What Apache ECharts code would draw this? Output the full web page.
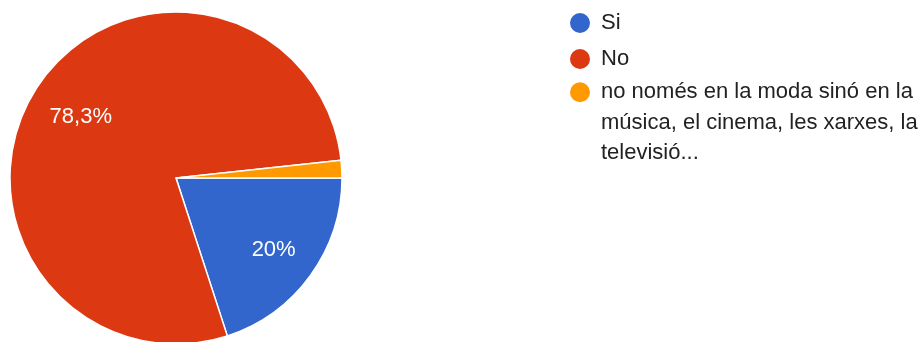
<!DOCTYPE html>
<html>
<head>
<meta charset="utf-8">
<script src="https://cdn.jsdelivr.net/npm/echarts@6/dist/echarts.min.js"></script>
<style>html,body{margin:0;padding:0;background:#fff}#c{width:923px;height:342px}</style>
</head>
<body>
<div id="c"></div>
<script>
const categories = ['Si', 'No', 'no només en la moda sinó en la música, el cinema, les xarxes, la televisió...'];
const values = [20, 78.3, 1.7];
const colors = ['#3366CC', '#DC3912', '#FF9900'];

const FONT = "'Liberation Sans', Arial, sans-serif";
const data = categories.map((n, i) => ({ name: n, value: values[i], itemStyle: { color: colors[i] } }));
const fmt = p => p.value >= 5 ? String(p.value).replace('.', ',') + '%' : '';

// greedy word wrap measured with the legend font
function wrap(text, maxW) {
  const ctx = document.createElement('canvas').getContext('2d');
  ctx.font = "22px 'Liberation Sans', Arial, sans-serif";
  const words = text.split(' ');
  const lines = [];
  let cur = '';
  words.forEach(w => {
    const t = cur ? cur + ' ' + w : w;
    if (cur && ctx.measureText(t).width > maxW) { lines.push(cur); cur = w; }
    else cur = t;
  });
  if (cur) lines.push(cur);
  return lines;
}

function legendFor(i, top, formatter, lh) {
  const l = {
    data: [categories[i]],
    orient: 'vertical',
    left: 568,
    top: top,
    padding: 0,
    icon: 'circle',
    itemWidth: 22,
    itemHeight: 22,
    selectedMode: false,
    textStyle: { fontFamily: FONT, fontSize: 22, color: '#222', lineHeight: lh || 30, padding: [0, 0, 0, 5] }
  };
  if (formatter) l.formatter = formatter;
  return l;
}

const chart = echarts.init(document.getElementById('c'));
chart.setOption({
  animation: false,
  legend: [
    legendFor(0, 8),
    legendFor(1, 44),
    // two leading empty lines keep the icon level with the first text line
    legendFor(2, 16, name => '\n\n' + wrap(name, 322).join('\n'), 30.5)
  ],
  series: [
    {
      type: 'pie',
      center: [176, 178],
      radius: [0, 166],
      startAngle: 0,
      clockwise: true,
      silent: true,
      label: { show: false },
      labelLine: { show: false },
      itemStyle: { borderColor: '#fff', borderWidth: 1.5 },
      data: data
    },
    {
      type: 'pie',
      center: [176, 178],
      radius: [62, 166],
      startAngle: 0,
      clockwise: true,
      silent: true,
      itemStyle: { color: 'transparent', borderWidth: 0 },
      label: { show: true, position: 'inside', formatter: fmt, color: '#fff', fontFamily: FONT, fontSize: 22, offset: [3, 3] },
      labelLine: { show: false },
      data: categories.map((n, i) => ({ name: n, value: values[i] }))
    }
  ]
});
</script>
</body>
</html>
